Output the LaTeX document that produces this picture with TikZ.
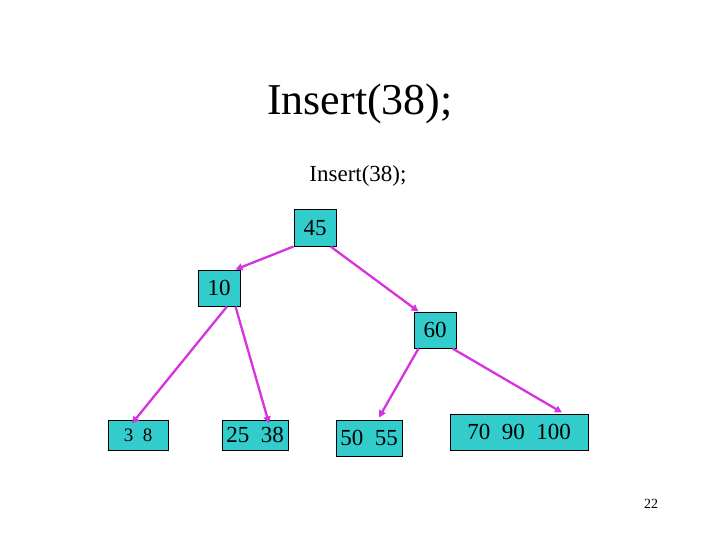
\documentclass[tikz,border=0pt]{standalone}
\usepackage{fontspec}
\setmainfont{Liberation Serif}
\usetikzlibrary{calc,arrows.meta}
\definecolor{boxfill}{RGB}{51,204,204}
\definecolor{linkcol}{RGB}{214,51,224}
\tikzset{
  keybox/.style={draw=black, line width=1pt, fill=boxfill, inner sep=0pt,
    font=\fontsize{23}{26}\selectfont},
  link/.style={draw=linkcol, line width=2.3pt, -{Triangle[length=7pt,width=7pt]}},
}
\begin{document}
\begin{tikzpicture}[x=1pt,y=-1pt]
\useasboundingbox (0,0) rectangle (720,540);
\node[anchor=base, font=\fontsize{44}{48}\selectfont] (title) at (360,115) {Insert(38);};
\node[anchor=base, font=\fontsize{23}{26}\selectfont] (sub) at (358,182) {Insert(38);};
\node[anchor=base, font=\fontsize{14}{16}\selectfont] (pg) at (651,508) {22};

\node[keybox, minimum width=42pt, minimum height=36pt] (n45) at (315,228) {45};
\node[keybox, minimum width=42pt, minimum height=36pt] (n10) at (219,288) {10};
\node[keybox, minimum width=42pt, minimum height=36pt] (n60) at (435,330) {60};
\node[keybox, minimum width=60pt, minimum height=30pt, font=\fontsize{19}{22}\selectfont] (n38) at (138,435) {3\hspace{0.5em}8};
\node[keybox, minimum width=66pt, minimum height=30pt] (n2538) at (255,435) {25\hspace{0.5em}38};
\node[keybox, minimum width=66pt, minimum height=36pt] (n5055) at (369,438) {50\hspace{0.5em}55};
\node[keybox, minimum width=138pt, minimum height=36pt] (n7090) at (519,432) {70\hspace{0.5em}90\hspace{0.5em}100};

\draw[link] (n45.south west) -- ($(n10.north east)+(-5,0)$);
\draw[link] ($(n45.south east)+(-6,0)$) -- ($(n60.north west)+(5,0)$);
\draw[link] ($(n10.south)+(8,0)$) -- ($(n38.north)+(-6,4)$);
\draw[link] ($(n10.south east)+(-5,0)$) -- ($(n2538.north)+(14,4)$);
\draw[link] ($(n60.south west)+(5,0)$) -- ($(n5055.north)+(10,-2)$);
\draw[link] ($(n60.south east)+(-4,0)$) -- ($(n7090.north)+(43,-1)$);
\end{tikzpicture}
\end{document}
